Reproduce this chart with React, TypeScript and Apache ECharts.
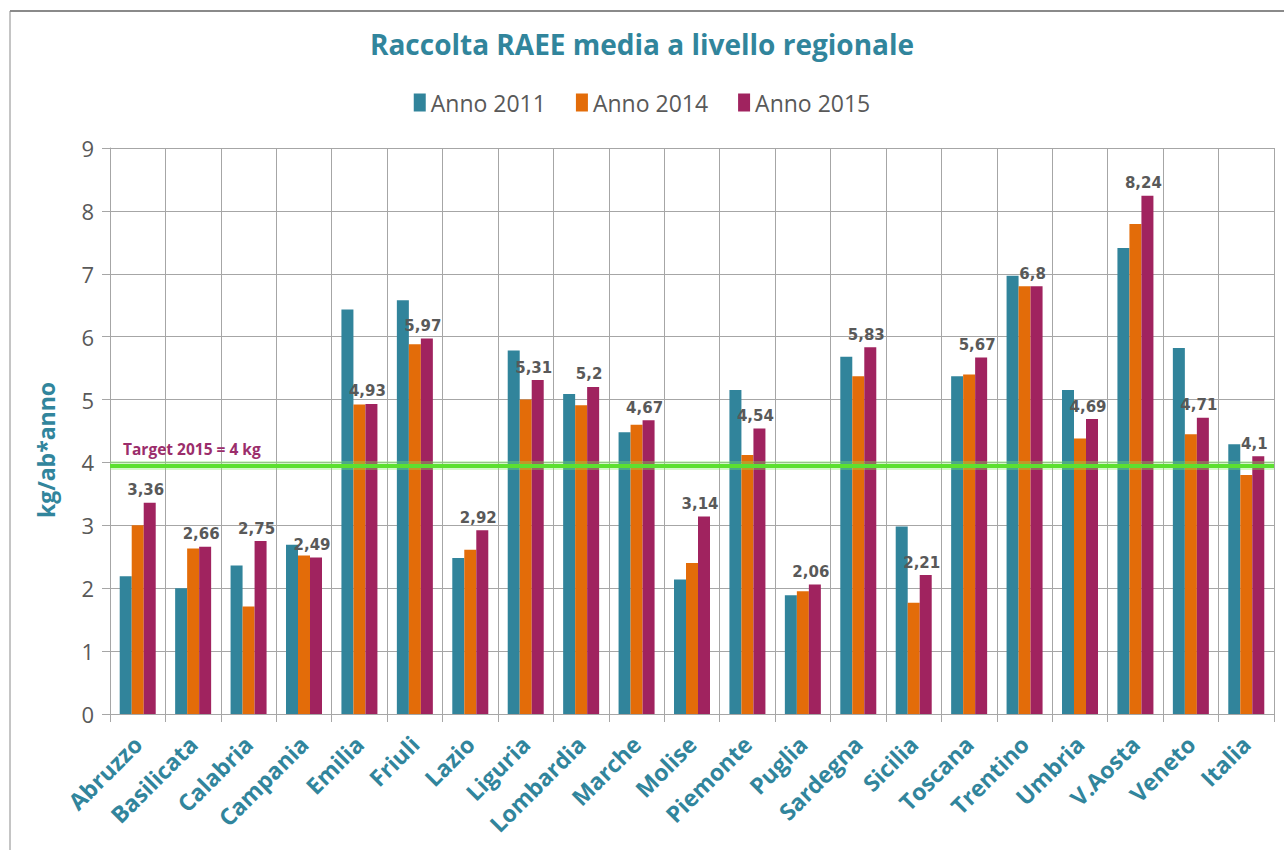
import React, { useEffect, useRef } from "react";
import * as echarts from "echarts";

const regions = ["Abruzzo","Basilicata","Calabria","Campania","Emilia","Friuli","Lazio","Liguria","Lombardia","Marche","Molise","Piemonte","Puglia","Sardegna","Sicilia","Toscana","Trentino","Umbria","V.Aosta","Veneto","Italia"];
const anno2011 = [2.19,2.0,2.36,2.69,6.43,6.58,2.48,5.78,5.09,4.48,2.14,5.15,1.89,5.68,2.98,5.37,6.97,5.15,7.41,5.82,4.29];
const anno2014 = [3.0,2.63,1.71,2.52,4.92,5.88,2.61,5.0,4.91,4.6,2.4,4.12,1.95,5.37,1.77,5.4,6.8,4.38,7.79,4.45,3.8];
const anno2015 = [3.36,2.66,2.75,2.49,4.93,5.97,2.92,5.31,5.2,4.67,3.14,4.54,2.06,5.83,2.21,5.67,6.8,4.69,8.24,4.71,4.1];
const seriesNames = ["Anno 2011","Anno 2014","Anno 2015"];
const yTitle = "kg/ab*anno";
const targetValue = 3.95;
const targetLabel = "Target 2015 = 4 kg";

export default function App() {
  const ref = useRef<HTMLDivElement>(null);
  useEffect(() => {
    const chart = echarts.init(ref.current!, null, { renderer: "svg" });
    const font = "'Open Sans', sans-serif";
    const gridColor = "#a6a6a6";
    chart.setOption({
      animation: false,
      backgroundColor: "#ffffff",
      title: {
        text: "Raccolta RAEE media a livello regionale",
        left: "center",
        top: 25,
        textStyle: { color: "#31859C", fontSize: 28, fontWeight: "bold", fontFamily: font },
      },
      legend: {
        top: 86,
        left: "center",
        itemWidth: 12,
        itemHeight: 18,
        itemGap: 30,
        icon: "rect",
        textStyle: { color: "#595959", fontSize: 23, fontFamily: font },
        data: seriesNames,
      },
      grid: { left: 110, right: 10, top: 148, bottom: 136 },
      xAxis: {
        type: "category",
        data: regions,
        axisLine: { lineStyle: { color: gridColor, width: 1 } },
        axisTick: { show: true, length: 8, lineStyle: { color: gridColor } },
        splitLine: { show: true, lineStyle: { color: gridColor, width: 1 } },
        axisLabel: {
          rotate: 45,
          interval: 0,
          margin: 26,
          color: "#31859C",
          fontSize: 23,
          fontWeight: "bold",
          fontFamily: font,
        },
      },
      yAxis: {
        type: "value",
        min: 0,
        max: 9,
        interval: 1,
        axisLine: { show: true, lineStyle: { color: gridColor } },
        axisTick: { show: true, length: 8, lineStyle: { color: gridColor } },
        splitLine: { show: true, lineStyle: { color: gridColor, width: 1 } },
        axisLabel: { color: "#595959", fontSize: 22, margin: 16, fontFamily: font },
      },
      series: [
        {
          name: seriesNames[0],
          type: "bar",
          data: anno2011,
          barWidth: 12,
          barGap: "0%",
          itemStyle: { color: "#31849B" },
        },
        {
          name: seriesNames[1],
          type: "bar",
          data: anno2014,
          barWidth: 12,
          barGap: "0%",
          itemStyle: { color: "#E36C09" },
          markLine: {
            silent: true,
            symbol: "none",
            data: [{ yAxis: targetValue }],
            lineStyle: { color: "rgba(130,235,100,0.35)", width: 9, type: "solid" },
            label: { show: false },
          },
        },
        {
          name: seriesNames[2],
          type: "bar",
          data: anno2015,
          barWidth: 12,
          barGap: "0%",
          itemStyle: { color: "#A0235F" },
          label: {
            show: true,
            position: "top",
            distance: 5,
            offset: [-4, 0],
            color: "#595959",
            fontSize: 15,
            fontWeight: "bold",
            fontFamily: "'DejaVu Sans', sans-serif",
            formatter: (p: any) => String(p.value).replace(".", ","),
          },
          markLine: {
            silent: true,
            symbol: "none",
            data: [{ yAxis: targetValue }],
            lineStyle: { color: "#5CE030", width: 4, type: "solid" },
            label: {
              show: true,
              position: "insideStartTop",
              formatter: targetLabel,
              color: "#9B2D6B",
              fontSize: 15.5,
              fontWeight: "bold",
              fontFamily: font,
              distance: [13, 9],
            },
          },
        },
      ],
      graphic: [
        { type: "line", shape: { x1: 10, y1: 11, x2: 1284, y2: 11 }, style: { stroke: "#8a8a8a", lineWidth: 2 } },
        { type: "line", shape: { x1: 10, y1: 11, x2: 10, y2: 850 }, style: { stroke: "#8a8a8a", lineWidth: 1 } },
        {
          type: "text",
          x: 46,
          y: 450,
          rotation: Math.PI / 2,
          style: {
            text: yTitle,
            fill: "#31859C",
            font: "bold 23px 'Open Sans', sans-serif",
            textAlign: "center",
            textVerticalAlign: "middle",
          },
        },
      ],
    });
    return () => chart.dispose();
  }, []);
  return <div ref={ref} style={{ position: "fixed", left: 0, top: 0, width: 1284, height: 850 }} />;
}
